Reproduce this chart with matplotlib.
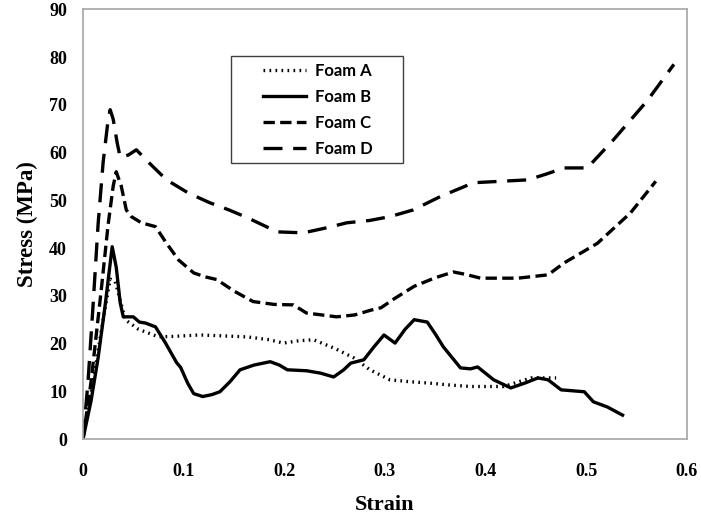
import matplotlib
matplotlib.use("Agg")
import matplotlib.pyplot as plt
from matplotlib.patches import Rectangle

# values (strain, stress in MPa)
strain_a = [0, 0.01, 0.02, 0.027, 0.032, 0.042, 0.055, 0.075, 0.09, 0.116, 0.14, 0.163,
            0.185, 0.199, 0.215, 0.229, 0.25, 0.269, 0.285, 0.305, 0.325, 0.345, 0.365,
            0.385, 0.40, 0.418, 0.43, 0.445, 0.47]
stress_a = [0, 12, 25, 33.5, 33, 25, 23, 21.4, 21.5, 21.8, 21.6, 21.4,
            20.8, 20.1, 20.6, 20.8, 19, 17, 14.5, 12.4, 12, 11.7, 11.3,
            11, 11, 11, 11.8, 12.8, 12.8]

strain_b = [0, 0.008, 0.015, 0.022, 0.029, 0.033, 0.037, 0.040, 0.050, 0.056, 0.062, 0.072,
            0.082, 0.093, 0.097, 0.104, 0.110, 0.119, 0.128, 0.136, 0.146, 0.156, 0.170,
            0.186, 0.195, 0.203, 0.222, 0.236, 0.249, 0.259, 0.266, 0.279, 0.289, 0.299,
            0.310, 0.320, 0.329, 0.342, 0.350, 0.358, 0.375, 0.385, 0.392, 0.408, 0.425,
            0.440, 0.452, 0.462, 0.475, 0.498, 0.507, 0.521, 0.536]
stress_b = [0, 8, 17, 28, 40.3, 36, 28.5, 25.6, 25.6, 24.5, 24.3, 23.5,
            20.1, 16, 15, 11.7, 9.5, 8.9, 9.3, 9.9, 12, 14.5, 15.5,
            16.2, 15.5, 14.5, 14.3, 13.8, 13, 14.5, 15.9, 16.6, 19.3, 21.8,
            20.1, 23, 25, 24.5, 22, 19.3, 14.9, 14.7, 15.1, 12.4, 10.7,
            11.8, 12.8, 12.4, 10.3, 9.9, 7.8, 6.7, 5.0]

strain_c = [0, 0.008, 0.018, 0.025, 0.030, 0.033, 0.038, 0.043, 0.048, 0.058, 0.072, 0.083,
            0.095, 0.110, 0.121, 0.133, 0.150, 0.169, 0.190, 0.209, 0.222, 0.252, 0.270,
            0.286, 0.296, 0.310, 0.329, 0.350, 0.368, 0.380, 0.395, 0.432, 0.462, 0.478,
            0.511, 0.544, 0.569]
stress_c = [0, 12, 31, 45, 53, 56, 53, 48, 46.6, 45.3, 44.5, 41,
            37.5, 34.8, 34, 33.4, 31, 28.8, 28.2, 28.1, 26.4, 25.6, 26,
            27, 27.5, 29.5, 32, 33.8, 35, 34.5, 33.7, 33.7, 34.4, 36.9,
            41, 47.4, 54]

strain_d = [0, 0.005, 0.010, 0.015, 0.020, 0.025, 0.027, 0.030, 0.034, 0.037, 0.045, 0.053,
            0.065, 0.083, 0.105, 0.126, 0.145, 0.163, 0.193, 0.219, 0.243, 0.262, 0.285,
            0.305, 0.328, 0.355, 0.388, 0.415, 0.442, 0.460, 0.478, 0.501, 0.527, 0.561,
            0.587]
stress_d = [0, 12, 28, 45, 58, 67, 69, 67, 62, 59, 59.5, 60.6,
            58, 54.3, 51.5, 49.5, 48, 46.4, 43.4, 43.2, 44.3, 45.3, 45.8,
            46.6, 48, 50.8, 53.7, 54, 54.3, 55.5, 56.8, 56.8, 62.7, 71,
            78.5]

x_ticks = [0, 0.1, 0.2, 0.3, 0.4, 0.5, 0.6]
x_tick_labels = ["0", "0.1", "0.2", "0.3", "0.4", "0.5", "0.6"]
y_ticks = [0, 10, 20, 30, 40, 50, 60, 70, 80, 90]

serif = ["Liberation Serif", "DejaVu Serif"]

fig = plt.figure(figsize=(7.01, 5.18), dpi=100)
ax = fig.add_axes([0.1184, 0.1525, 0.8616, 0.8292])

lw = 2.4
ax.plot(strain_a, stress_a, color="black", lw=lw, linestyle=(0, (0.5, 1.3)),
        dash_capstyle="butt", label="Foam A")
ax.plot(strain_b, stress_b, color="black", lw=lw, linestyle="-", label="Foam B")
ax.plot(strain_c, stress_c, color="black", lw=lw, linestyle=(0, (3.4, 1.6)),
        label="Foam C")
ax.plot(strain_d, stress_d, color="black", lw=lw, linestyle=(0, (5.7, 3.2)),
        label="Foam D")

ax.set_xlim(0, 0.6)
ax.set_ylim(0, 90)
ax.set_xticks(x_ticks)
ax.set_xticklabels(x_tick_labels)
ax.set_yticks(y_ticks)
ax.tick_params(length=0)
ax.tick_params(axis="x", pad=17)
ax.tick_params(axis="y", pad=11.5)
for lab in ax.get_xticklabels() + ax.get_yticklabels():
    lab.set_family(serif)
    lab.set_fontweight("bold")
    lab.set_fontsize(13)

for sp in ax.spines.values():
    sp.set_color("#a6a6a6")
    sp.set_linewidth(1.2)

ax.set_xlabel("Strain", family=serif, fontweight="bold", fontsize=16, labelpad=11)
ax.set_ylabel("Stress (MPa)", family=serif, fontweight="bold", fontsize=16.5, labelpad=8)

# legend box drawn separately so it can be wider than its content
ax.add_patch(Rectangle((0.245, 0.6426), 0.2848, 0.249, transform=ax.transAxes,
                       facecolor="white", edgecolor="#404040", lw=1.0, zorder=4))
leg = ax.legend(loc="center left", bbox_to_anchor=(0.298, 0.767), frameon=False,
                handlelength=2.6, handletextpad=0.5, borderpad=0, borderaxespad=0,
                labelspacing=0.6,
                prop={"family": ["Lato", "DejaVu Sans"], "weight": "bold", "size": 12})
leg.set_zorder(5)

fig.savefig("out.png", dpi=100)
